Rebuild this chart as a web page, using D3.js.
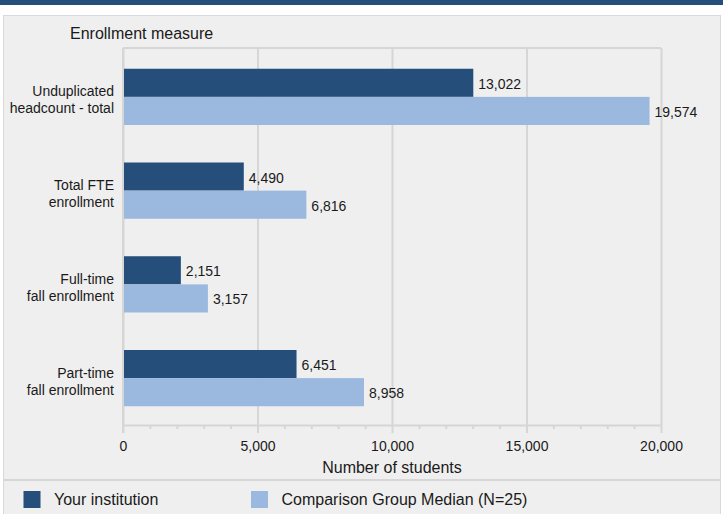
<!DOCTYPE html>
<html>
<head>
<meta charset="utf-8">
<script src="https://d3js.org/d3.v7.min.js"></script>
<style>
    body { margin: 0; background: #fff; }
    text { font-family: "Liberation Sans", Arial, sans-serif; fill: #1a1a1a; }
</style>
</head>
<body>
<div id="chart"></div>
<script>
var categories = ['Unduplicated headcount - total', 'Total FTE enrollment', 'Full-time fall enrollment', 'Part-time fall enrollment'];
var categoryLines = [['Unduplicated', 'headcount - total'], ['Total FTE', 'enrollment'], ['Full-time', 'fall enrollment'], ['Part-time', 'fall enrollment']];
var seriesNames = ['Your institution', 'Comparison Group Median (N=25)'];
var yourInstitution = [13022, 4490, 2151, 6451];
var groupMedian = [19574, 6816, 3157, 8958];
var xTicks = [0, 5000, 10000, 15000, 20000];
var colors = ['#254e7a', '#9bb9de'];

var width = 723, height = 514;
var plot = { left: 123, right: 661, top: 48, bottom: 425 };

var svg = d3.select('#chart').append('svg')
    .attr('width', width)
    .attr('height', height);

// header strip + panel
svg.append('rect').attr('x', 0).attr('y', 0).attr('width', width).attr('height', 5).attr('fill', '#254e7a');
svg.append('rect').attr('x', 3.5).attr('y', 15.5).attr('width', 717).attr('height', 510)
    .attr('fill', '#efefef').attr('stroke', '#d9d9d9').attr('stroke-width', 1);
svg.append('line').attr('x1', 3).attr('x2', 721).attr('y1', 480).attr('y2', 480)
    .attr('stroke', '#d6d6d6').attr('stroke-width', 2);

var x = d3.scaleLinear().domain([0, 20000]).range([plot.left, plot.right]);
var y = d3.scaleBand().domain(categories).range([50, plot.bottom]).paddingInner(0.4).paddingOuter(0.2);
var ySeries = d3.scaleBand().domain(seriesNames).range([0, y.bandwidth()]);

// frame top
svg.append('line').attr('x1', plot.left).attr('x2', plot.right).attr('y1', plot.top).attr('y2', plot.top)
    .attr('stroke', '#d6d6d6').attr('stroke-width', 2);

// gridlines
var grid = svg.append('g').attr('transform', 'translate(0,' + plot.bottom + ')')
    .call(d3.axisBottom(x).tickValues(xTicks).tickSize(-(plot.bottom - plot.top)).tickFormat(''));
grid.select('.domain').remove();
grid.selectAll('line').attr('stroke', '#d6d6d6').attr('stroke-width', 2);

// minor ticks
var minorTicks = d3.range(0, 20001, 1000).filter(function(d){ return d % 5000 !== 0; });
var minor = svg.append('g').attr('transform', 'translate(0,' + plot.bottom + ')')
    .call(d3.axisBottom(x).tickValues(minorTicks).tickSize(4).tickFormat(''));
minor.select('.domain').remove();
minor.selectAll('line').attr('stroke', '#d6d6d6').attr('stroke-width', 2);

// x axis
var xAxis = svg.append('g').attr('transform', 'translate(0,' + plot.bottom + ')')
    .call(d3.axisBottom(x).tickValues(xTicks).tickSize(8).tickPadding(8).tickFormat(d3.format(',')).tickSizeOuter(0));
xAxis.select('.domain').attr('stroke', '#d6d6d6').attr('stroke-width', 2);
xAxis.selectAll('line').attr('stroke', '#d6d6d6').attr('stroke-width', 2);
xAxis.selectAll('text').attr('font-size', 14).attr('font-family', '"Liberation Sans", Arial, sans-serif').attr('fill', '#1a1a1a');

// left axis line
svg.append('line').attr('x1', plot.left).attr('x2', plot.left).attr('y1', plot.top).attr('y2', plot.bottom + 8)
    .attr('stroke', '#d6d6d6').attr('stroke-width', 2);

// bars
var seriesData = [yourInstitution, groupMedian];
seriesData.forEach(function(values, s){
    var g = svg.append('g');
    g.selectAll('rect').data(values).enter().append('rect')
        .attr('x', x(0) + 1)
        .attr('y', function(d, i){ return y(categories[i]) + ySeries(seriesNames[s]); })
        .attr('width', function(d){ return x(d) - x(0) - 1; })
        .attr('height', ySeries.bandwidth())
        .attr('fill', colors[s]);
    g.selectAll('text').data(values).enter().append('text')
        .attr('x', function(d){ return x(d) + 5; })
        .attr('y', function(d, i){ return y(categories[i]) + ySeries(seriesNames[s]) + ySeries.bandwidth() / 2 + 6; })
        .attr('font-size', 14)
        .text(d3.format(','));
});

// category labels
categories.forEach(function(c, i){
    var cy = y(c) + y.bandwidth() / 2;
    var t = svg.append('text').attr('text-anchor', 'end').attr('font-size', 14);
    categoryLines[i].forEach(function(line, j){
        t.append('tspan').attr('x', 114).attr('y', cy - 0.5 + j * 17).text(line);
    });
});

svg.append('text').attr('x', 70).attr('y', 39).attr('font-size', 16).text('Enrollment measure');
svg.append('text').attr('x', (plot.left + plot.right) / 2).attr('y', 473).attr('text-anchor', 'middle')
    .attr('font-size', 16).text('Number of students');

// legend
var legendX = [23.5, 251];
seriesNames.forEach(function(name, i){
    svg.append('rect').attr('x', legendX[i]).attr('y', 491).attr('width', 17).attr('height', 17).attr('fill', colors[i]);
    svg.append('text').attr('x', legendX[i] + 30.5).attr('y', 505).attr('font-size', 16).text(name);
});
</script>
</body>
</html>
